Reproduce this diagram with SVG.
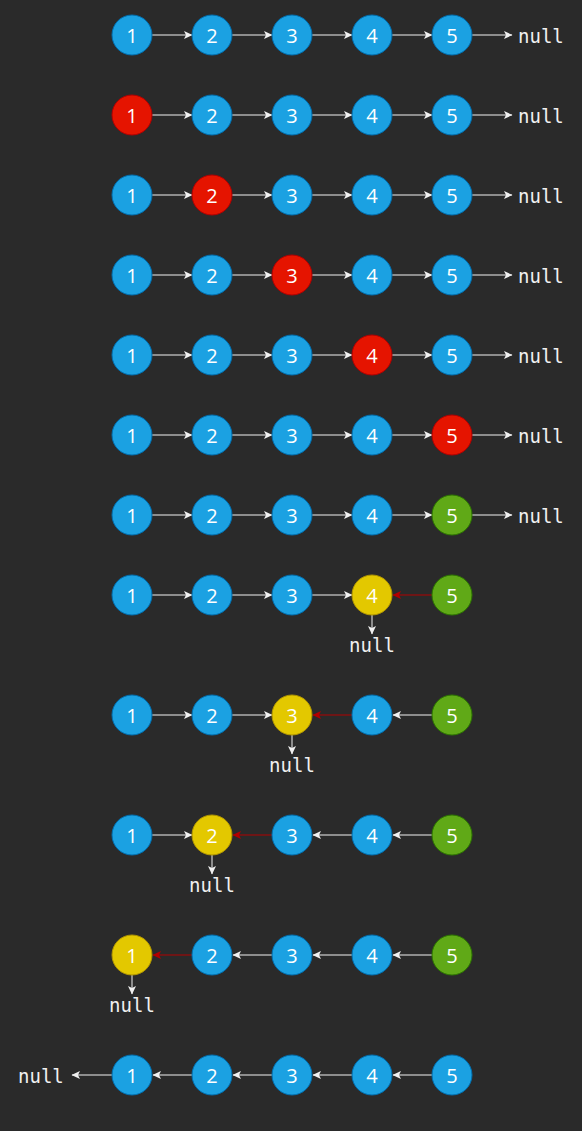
<svg xmlns="http://www.w3.org/2000/svg" width="582" height="1131" viewBox="0 0 582 1131">
<defs>
<style>
.b{fill:#1ba1e2;stroke:#006eaf;stroke-width:1}
.r{fill:#e51400;stroke:#b20000;stroke-width:1}
.y{fill:#e3c800;stroke:#b09500;stroke-width:1}
.g{fill:#60a917;stroke:#2d7600;stroke-width:1}
.t{font-family:"Open Sans","Noto Sans",sans-serif;font-size:20px;fill:#ffffff;text-anchor:middle}
.n{font-family:"DejaVu Sans Mono","Liberation Mono",monospace;font-size:19px;fill:#f0f0f0}
.w{stroke:#f0f0f0;stroke-width:1;fill:none;marker-end:url(#aw)}
.d{stroke:#b20000;stroke-width:1;fill:none;marker-end:url(#ad)}
</style>
<marker id="aw" markerUnits="userSpaceOnUse" markerWidth="10" markerHeight="10" viewBox="0 0 10 10" refX="9" refY="5" orient="auto">
<path d="M1,1 L9.5,5 L1,9 L3,5 Z" fill="#f0f0f0"/>
</marker>
<marker id="ad" markerUnits="userSpaceOnUse" markerWidth="10" markerHeight="10" viewBox="0 0 10 10" refX="9" refY="5" orient="auto">
<path d="M1,1 L9.5,5 L1,9 L3,5 Z" fill="#b20000"/>
</marker>
</defs>
<rect x="0" y="0" width="582" height="1131" fill="#2a2a2a"/>
<g id="connectors">
<line class="w" x1="152" y1="35" x2="192" y2="35"/><line class="w" x1="232" y1="35" x2="272" y2="35"/><line class="w" x1="312" y1="35" x2="352" y2="35"/><line class="w" x1="392" y1="35" x2="432" y2="35"/><line class="w" x1="472" y1="35" x2="512" y2="35"/>
<line class="w" x1="152" y1="115" x2="192" y2="115"/><line class="w" x1="232" y1="115" x2="272" y2="115"/><line class="w" x1="312" y1="115" x2="352" y2="115"/><line class="w" x1="392" y1="115" x2="432" y2="115"/><line class="w" x1="472" y1="115" x2="512" y2="115"/>
<line class="w" x1="152" y1="195" x2="192" y2="195"/><line class="w" x1="232" y1="195" x2="272" y2="195"/><line class="w" x1="312" y1="195" x2="352" y2="195"/><line class="w" x1="392" y1="195" x2="432" y2="195"/><line class="w" x1="472" y1="195" x2="512" y2="195"/>
<line class="w" x1="152" y1="275" x2="192" y2="275"/><line class="w" x1="232" y1="275" x2="272" y2="275"/><line class="w" x1="312" y1="275" x2="352" y2="275"/><line class="w" x1="392" y1="275" x2="432" y2="275"/><line class="w" x1="472" y1="275" x2="512" y2="275"/>
<line class="w" x1="152" y1="355" x2="192" y2="355"/><line class="w" x1="232" y1="355" x2="272" y2="355"/><line class="w" x1="312" y1="355" x2="352" y2="355"/><line class="w" x1="392" y1="355" x2="432" y2="355"/><line class="w" x1="472" y1="355" x2="512" y2="355"/>
<line class="w" x1="152" y1="435" x2="192" y2="435"/><line class="w" x1="232" y1="435" x2="272" y2="435"/><line class="w" x1="312" y1="435" x2="352" y2="435"/><line class="w" x1="392" y1="435" x2="432" y2="435"/><line class="w" x1="472" y1="435" x2="512" y2="435"/>
<line class="w" x1="152" y1="515" x2="192" y2="515"/><line class="w" x1="232" y1="515" x2="272" y2="515"/><line class="w" x1="312" y1="515" x2="352" y2="515"/><line class="w" x1="392" y1="515" x2="432" y2="515"/><line class="w" x1="472" y1="515" x2="512" y2="515"/>
<line class="w" x1="152" y1="595" x2="192" y2="595"/><line class="w" x1="232" y1="595" x2="272" y2="595"/><line class="w" x1="312" y1="595" x2="352" y2="595"/>
<line class="d" x1="432" y1="595" x2="393" y2="595"/>
<line class="w" x1="372" y1="615" x2="372" y2="634"/>
<line class="w" x1="152" y1="715" x2="192" y2="715"/><line class="w" x1="232" y1="715" x2="272" y2="715"/>
<line class="d" x1="352" y1="715" x2="313" y2="715"/>
<line class="w" x1="432" y1="715" x2="393" y2="715"/>
<line class="w" x1="292" y1="735" x2="292" y2="754"/>
<line class="w" x1="152" y1="835" x2="192" y2="835"/>
<line class="d" x1="272" y1="835" x2="233" y2="835"/>
<line class="w" x1="352" y1="835" x2="313" y2="835"/><line class="w" x1="432" y1="835" x2="393" y2="835"/>
<line class="w" x1="212" y1="855" x2="212" y2="874"/>
<line class="d" x1="192" y1="955" x2="153" y2="955"/>
<line class="w" x1="272" y1="955" x2="233" y2="955"/><line class="w" x1="352" y1="955" x2="313" y2="955"/><line class="w" x1="432" y1="955" x2="393" y2="955"/>
<line class="w" x1="132" y1="975" x2="132" y2="994"/>
<line class="w" x1="112" y1="1075" x2="72" y2="1075"/><line class="w" x1="192" y1="1075" x2="153" y2="1075"/><line class="w" x1="272" y1="1075" x2="233" y2="1075"/><line class="w" x1="352" y1="1075" x2="313" y2="1075"/><line class="w" x1="432" y1="1075" x2="393" y2="1075"/>
</g>
<g id="row1">
<g id="n1-1"><circle class="b" cx="132" cy="35" r="20"/><text class="t" x="132" y="42.5">1</text></g>
<g id="n1-2"><circle class="b" cx="212" cy="35" r="20"/><text class="t" x="212" y="42.5">2</text></g>
<g id="n1-3"><circle class="b" cx="292" cy="35" r="20"/><text class="t" x="292" y="42.5">3</text></g>
<g id="n1-4"><circle class="b" cx="372" cy="35" r="20"/><text class="t" x="372" y="42.5">4</text></g>
<g id="n1-5"><circle class="b" cx="452" cy="35" r="20"/><text class="t" x="452" y="42.5">5</text></g>
<g id="null1"><text class="n" x="518" y="42.5">null</text></g>
</g>
<g id="row2">
<g id="n2-1"><circle class="r" cx="132" cy="115" r="20"/><text class="t" x="132" y="122.5">1</text></g>
<g id="n2-2"><circle class="b" cx="212" cy="115" r="20"/><text class="t" x="212" y="122.5">2</text></g>
<g id="n2-3"><circle class="b" cx="292" cy="115" r="20"/><text class="t" x="292" y="122.5">3</text></g>
<g id="n2-4"><circle class="b" cx="372" cy="115" r="20"/><text class="t" x="372" y="122.5">4</text></g>
<g id="n2-5"><circle class="b" cx="452" cy="115" r="20"/><text class="t" x="452" y="122.5">5</text></g>
<g id="null2"><text class="n" x="518" y="122.5">null</text></g>
</g>
<g id="row3">
<g id="n3-1"><circle class="b" cx="132" cy="195" r="20"/><text class="t" x="132" y="202.5">1</text></g>
<g id="n3-2"><circle class="r" cx="212" cy="195" r="20"/><text class="t" x="212" y="202.5">2</text></g>
<g id="n3-3"><circle class="b" cx="292" cy="195" r="20"/><text class="t" x="292" y="202.5">3</text></g>
<g id="n3-4"><circle class="b" cx="372" cy="195" r="20"/><text class="t" x="372" y="202.5">4</text></g>
<g id="n3-5"><circle class="b" cx="452" cy="195" r="20"/><text class="t" x="452" y="202.5">5</text></g>
<g id="null3"><text class="n" x="518" y="202.5">null</text></g>
</g>
<g id="row4">
<g id="n4-1"><circle class="b" cx="132" cy="275" r="20"/><text class="t" x="132" y="282.5">1</text></g>
<g id="n4-2"><circle class="b" cx="212" cy="275" r="20"/><text class="t" x="212" y="282.5">2</text></g>
<g id="n4-3"><circle class="r" cx="292" cy="275" r="20"/><text class="t" x="292" y="282.5">3</text></g>
<g id="n4-4"><circle class="b" cx="372" cy="275" r="20"/><text class="t" x="372" y="282.5">4</text></g>
<g id="n4-5"><circle class="b" cx="452" cy="275" r="20"/><text class="t" x="452" y="282.5">5</text></g>
<g id="null4"><text class="n" x="518" y="282.5">null</text></g>
</g>
<g id="row5">
<g id="n5-1"><circle class="b" cx="132" cy="355" r="20"/><text class="t" x="132" y="362.5">1</text></g>
<g id="n5-2"><circle class="b" cx="212" cy="355" r="20"/><text class="t" x="212" y="362.5">2</text></g>
<g id="n5-3"><circle class="b" cx="292" cy="355" r="20"/><text class="t" x="292" y="362.5">3</text></g>
<g id="n5-4"><circle class="r" cx="372" cy="355" r="20"/><text class="t" x="372" y="362.5">4</text></g>
<g id="n5-5"><circle class="b" cx="452" cy="355" r="20"/><text class="t" x="452" y="362.5">5</text></g>
<g id="null5"><text class="n" x="518" y="362.5">null</text></g>
</g>
<g id="row6">
<g id="n6-1"><circle class="b" cx="132" cy="435" r="20"/><text class="t" x="132" y="442.5">1</text></g>
<g id="n6-2"><circle class="b" cx="212" cy="435" r="20"/><text class="t" x="212" y="442.5">2</text></g>
<g id="n6-3"><circle class="b" cx="292" cy="435" r="20"/><text class="t" x="292" y="442.5">3</text></g>
<g id="n6-4"><circle class="b" cx="372" cy="435" r="20"/><text class="t" x="372" y="442.5">4</text></g>
<g id="n6-5"><circle class="r" cx="452" cy="435" r="20"/><text class="t" x="452" y="442.5">5</text></g>
<g id="null6"><text class="n" x="518" y="442.5">null</text></g>
</g>
<g id="row7">
<g id="n7-1"><circle class="b" cx="132" cy="515" r="20"/><text class="t" x="132" y="522.5">1</text></g>
<g id="n7-2"><circle class="b" cx="212" cy="515" r="20"/><text class="t" x="212" y="522.5">2</text></g>
<g id="n7-3"><circle class="b" cx="292" cy="515" r="20"/><text class="t" x="292" y="522.5">3</text></g>
<g id="n7-4"><circle class="b" cx="372" cy="515" r="20"/><text class="t" x="372" y="522.5">4</text></g>
<g id="n7-5"><circle class="g" cx="452" cy="515" r="20"/><text class="t" x="452" y="522.5">5</text></g>
<g id="null7"><text class="n" x="518" y="522.5">null</text></g>
</g>
<g id="row8">
<g id="n8-1"><circle class="b" cx="132" cy="595" r="20"/><text class="t" x="132" y="602.5">1</text></g>
<g id="n8-2"><circle class="b" cx="212" cy="595" r="20"/><text class="t" x="212" y="602.5">2</text></g>
<g id="n8-3"><circle class="b" cx="292" cy="595" r="20"/><text class="t" x="292" y="602.5">3</text></g>
<g id="n8-4"><circle class="y" cx="372" cy="595" r="20"/><text class="t" x="372" y="602.5">4</text></g>
<g id="n8-5"><circle class="g" cx="452" cy="595" r="20"/><text class="t" x="452" y="602.5">5</text></g>
<g id="null8"><text class="n" x="372" y="652" text-anchor="middle">null</text></g>
</g>
<g id="row9">
<g id="n9-1"><circle class="b" cx="132" cy="715" r="20"/><text class="t" x="132" y="722.5">1</text></g>
<g id="n9-2"><circle class="b" cx="212" cy="715" r="20"/><text class="t" x="212" y="722.5">2</text></g>
<g id="n9-3"><circle class="y" cx="292" cy="715" r="20"/><text class="t" x="292" y="722.5">3</text></g>
<g id="n9-4"><circle class="b" cx="372" cy="715" r="20"/><text class="t" x="372" y="722.5">4</text></g>
<g id="n9-5"><circle class="g" cx="452" cy="715" r="20"/><text class="t" x="452" y="722.5">5</text></g>
<g id="null9"><text class="n" x="292" y="772" text-anchor="middle">null</text></g>
</g>
<g id="row10">
<g id="n10-1"><circle class="b" cx="132" cy="835" r="20"/><text class="t" x="132" y="842.5">1</text></g>
<g id="n10-2"><circle class="y" cx="212" cy="835" r="20"/><text class="t" x="212" y="842.5">2</text></g>
<g id="n10-3"><circle class="b" cx="292" cy="835" r="20"/><text class="t" x="292" y="842.5">3</text></g>
<g id="n10-4"><circle class="b" cx="372" cy="835" r="20"/><text class="t" x="372" y="842.5">4</text></g>
<g id="n10-5"><circle class="g" cx="452" cy="835" r="20"/><text class="t" x="452" y="842.5">5</text></g>
<g id="null10"><text class="n" x="212" y="892" text-anchor="middle">null</text></g>
</g>
<g id="row11">
<g id="n11-1"><circle class="y" cx="132" cy="955" r="20"/><text class="t" x="132" y="962.5">1</text></g>
<g id="n11-2"><circle class="b" cx="212" cy="955" r="20"/><text class="t" x="212" y="962.5">2</text></g>
<g id="n11-3"><circle class="b" cx="292" cy="955" r="20"/><text class="t" x="292" y="962.5">3</text></g>
<g id="n11-4"><circle class="b" cx="372" cy="955" r="20"/><text class="t" x="372" y="962.5">4</text></g>
<g id="n11-5"><circle class="g" cx="452" cy="955" r="20"/><text class="t" x="452" y="962.5">5</text></g>
<g id="null11"><text class="n" x="132" y="1012" text-anchor="middle">null</text></g>
</g>
<g id="row12">
<g id="n12-1"><circle class="b" cx="132" cy="1075" r="20"/><text class="t" x="132" y="1082.5">1</text></g>
<g id="n12-2"><circle class="b" cx="212" cy="1075" r="20"/><text class="t" x="212" y="1082.5">2</text></g>
<g id="n12-3"><circle class="b" cx="292" cy="1075" r="20"/><text class="t" x="292" y="1082.5">3</text></g>
<g id="n12-4"><circle class="b" cx="372" cy="1075" r="20"/><text class="t" x="372" y="1082.5">4</text></g>
<g id="n12-5"><circle class="b" cx="452" cy="1075" r="20"/><text class="t" x="452" y="1082.5">5</text></g>
<g id="null12"><text class="n" x="18" y="1082.5">null</text></g>
</g>
</svg>
